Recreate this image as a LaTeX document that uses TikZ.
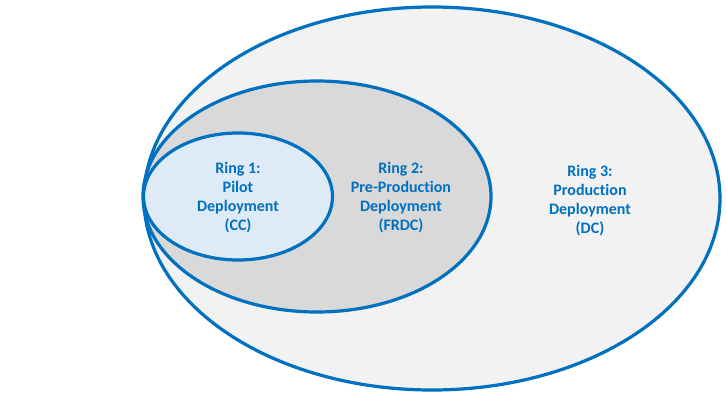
\documentclass[tikz,border=0pt]{standalone}
\usepackage{fontspec}
\setmainfont[Ligatures={NoCommon}]{Carlito}
\definecolor{ringblue}{HTML}{0070C0}
\definecolor{outerfill}{HTML}{F2F2F2}
\definecolor{midfill}{HTML}{D9D9D9}
\definecolor{innerfill}{HTML}{DEEBF7}
\begin{document}
\begin{tikzpicture}[x=0.75pt,y=-0.75pt,
  ring/.style={draw=ringblue,line width=2.4pt},
  lbl/.style={text=ringblue,font=\bfseries\fontsize{12}{14.25}\selectfont,align=center,inner sep=0pt}]
\useasboundingbox (0,0) rectangle (726,400);
\fill[white] (0,0) rectangle (726,400);
\path[ring,fill=outerfill] (432,198.5) ellipse [x radius=288,y radius=191.5];
\path[ring,fill=midfill] (317,196.5) ellipse [x radius=174,y radius=115.5];
\path[ring,fill=innerfill] (238,196.5) ellipse [x radius=94.5,y radius=63.5];
\node[lbl] (r1) at (238,198) {Ring 1:\\Pilot\\Deployment\\(CC)};
\node[lbl] (r2) at (401,198) {Ring 2:\\Pre-Production\\Deployment\\(FRDC)};
\node[lbl] (r3) at (590,201) {Ring 3:\\Production\\Deployment\\(DC)};
\end{tikzpicture}
\end{document}
